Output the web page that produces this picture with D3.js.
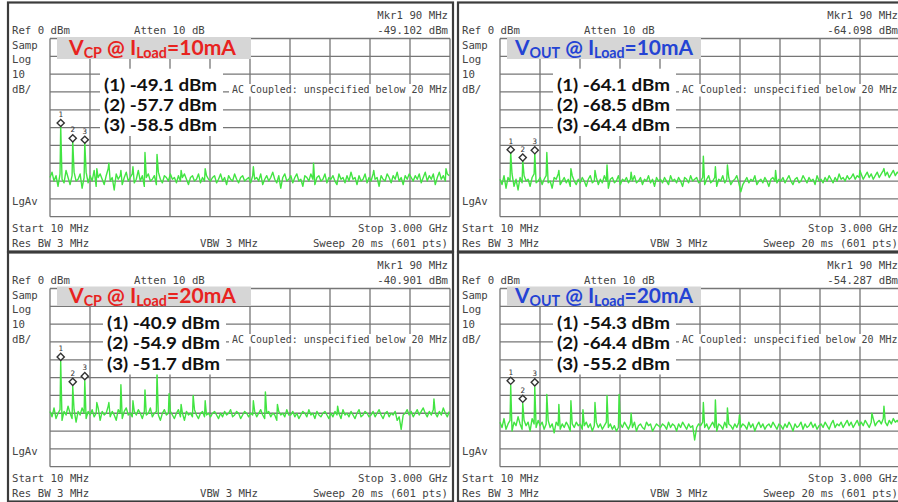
<!DOCTYPE html>
<html>
<head>
<meta charset="utf-8">
<script src="https://cdn.jsdelivr.net/npm/d3@7"></script>
<style>
  body { margin: 0; background: #fff; }
  svg { display: block; }
  text { white-space: pre; }
</style>
</head>
<body>
<div id="chart"></div>
<script>
// analyzer sweep settings
var startMHz = 10, stopMHz = 3000, stepMHz = 15;
var refLevel = 0, dbPerDiv = 10, divisions = 10;

// marker frequencies (MHz), same for all four captures
var markerFreqs = [90, 180, 270];

// marker levels (dBm)
var vcp10Markers = [-49.1, -57.7, -58.5];
var vout10Markers = [-64.1, -68.5, -64.4];
var vcp20Markers = [-40.9, -54.9, -51.7];
var vout20Markers = [-54.3, -64.4, -55.2];

// Mkr1 readout shown top right
var mkrReadouts = ["-49.102 dBm", "-64.098 dBm", "-40.901 dBm", "-54.287 dBm"];

// title pieces
var titleSubs = ["CP", "OUT", "CP", "OUT"];
var loadCurrents = ["10mA", "10mA", "20mA", "20mA"];

// other spurs (MHz, dBm)
var vcp10Spurs = [[360, -73], [450, -70], [540, -74], [630, -72], [720, -64], [810, -65], [990, -74],
  [1170, -73], [1530, -72], [1980, -70], [2430, -74], [2970, -73]];
var vout10Spurs = [[360, -64], [450, -74], [540, -73], [720, -74], [810, -71], [990, -75], [1530, -66],
  [1620, -72], [1710, -71], [2070, -74], [2700, -74], [2880, -73]];
var vcp20Spurs = [[360, -64], [450, -64], [540, -54], [630, -63], [720, -57], [810, -47.5], [900, -59],
  [990, -65], [1080, -60], [1170, -63], [1530, -63], [1620, -58], [1710, -65], [2160, -66], [2880, -62]];
var vout20Spurs = [[360, -59.5], [450, -65], [540, -63], [630, -68], [720, -64], [810, -60], [900, -59.5],
  [990, -70], [1530, -64], [1620, -62.5], [1710, -67], [1800, -71], [2790, -70], [2880, -66]];

// noise floor, one value every 15 MHz from 10 MHz (dBm)
var vcp10Noise = [
  -78,-75,-80,-77,-83,-76,-79,-81,-74,-78,-82,-77,-75,-80,-79,-76,-84,-78,-75,-81,
  -77,-80,-74,-83,-78,-76,-79,-82,-77,-73,-80,-78,-85,-76,-79,-77,-82,-78,-75,-80,
  -78,-76,-81,-79,-74,-80,-77,-83,-78,-76,-80,-79,-77,-82,-75,-79,-81,-77,-78,-80,
  -76,-79,-78,-81,-77,-80,-78,-76,-79,-82,-78,-77,-80,-79,-76,-81,-78,-80,-77,-79,
  -80,-78,-77,-81,-79,-76,-80,-78,-82,-77,-79,-80,-76,-79,-81,-78,-77,-80,-79,-78,
  -81,-77,-79,-78,-80,-76,-82,-79,-77,-80,-78,-75,-79,-81,-77,-84,-78,-76,-80,-79,
  -77,-81,-78,-76,-80,-79,-83,-77,-78,-80,-76,-79,-82,-78,-77,-80,-79,-76,-81,-78,
  -79,-77,-80,-82,-76,-79,-78,-81,-77,-80,-75,-79,-78,-82,-77,-80,-79,-76,-81,-78,
  -80,-76,-79,-78,-83,-77,-79,-80,-76,-78,-81,-77,-79,-75,-80,-78,-82,-77,-79,-76,
  -78,-80,-77,-79,-76,-81,-78,-75,-80,-77,-79,-76,-82,-78,-75,-79,-77,-80,-76,-77];
var vout10Noise = [
  -79,-82,-77,-84,-78,-80,-76,-83,-79,-85,-78,-81,-77,-80,-79,-83,-78,-76,-81,-80,
  -78,-82,-79,-77,-81,-80,-84,-78,-79,-76,-82,-80,-78,-81,-79,-83,-77,-80,-82,-79,
  -81,-78,-80,-83,-79,-77,-81,-80,-78,-82,-79,-81,-77,-80,-84,-79,-78,-81,-80,-77,
  -82,-79,-80,-78,-81,-79,-80,-77,-81,-80,-78,-82,-79,-80,-77,-81,-79,-83,-78,-80,
  -79,-81,-78,-80,-82,-77,-80,-79,-81,-78,-80,-83,-78,-79,-81,-77,-80,-79,-78,-81,
  -80,-78,-82,-79,-77,-81,-80,-78,-83,-79,-80,-77,-81,-79,-78,-82,-80,-79,-77,-81,
  -86,-82,-80,-78,-81,-79,-80,-77,-82,-80,-79,-81,-78,-80,-83,-79,-78,-80,-81,-79,
  -80,-78,-81,-79,-77,-80,-82,-79,-78,-81,-80,-77,-79,-81,-78,-80,-79,-82,-77,-80,
  -79,-81,-78,-80,-77,-79,-81,-78,-80,-76,-79,-78,-80,-77,-79,-78,-76,-79,-77,-78,
  -76,-79,-77,-75,-78,-76,-79,-77,-75,-78,-76,-74,-77,-75,-78,-76,-74,-77,-75,-76];
var vcp20Noise = [
  -69,-72,-67,-73,-70,-68,-74,-69,-71,-66,-70,-73,-68,-75,-69,-71,-67,-70,-73,-69,
  -71,-68,-72,-70,-67,-74,-69,-71,-70,-66,-72,-69,-71,-74,-68,-70,-73,-69,-67,-71,
  -70,-72,-69,-71,-68,-70,-73,-69,-71,-70,-67,-72,-70,-69,-71,-74,-70,-68,-71,-70,
  -69,-71,-73,-70,-68,-72,-70,-74,-69,-71,-70,-72,-68,-71,-73,-70,-69,-72,-71,-70,
  -72,-70,-69,-71,-73,-70,-72,-69,-71,-70,-68,-72,-71,-69,-70,-73,-71,-69,-70,-72,
  -70,-71,-69,-72,-70,-68,-71,-73,-70,-69,-72,-70,-71,-74,-69,-71,-70,-72,-68,-71,
  -71,-69,-72,-70,-73,-71,-69,-70,-72,-68,-71,-70,-73,-69,-71,-72,-70,-69,-71,-73,
  -70,-72,-69,-71,-70,-73,-68,-71,-70,-72,-69,-71,-73,-70,-68,-72,-71,-69,-70,-72,
  -71,-69,-72,-70,-68,-71,-73,-70,-69,-72,-70,-71,-69,-74,-72,-79,-71,-70,-68,-71,
  -69,-72,-70,-68,-71,-69,-67,-70,-72,-69,-71,-68,-70,-72,-69,-71,-67,-70,-72,-69];
var vout20Noise = [
  -75,-78,-73,-79,-76,-74,-80,-75,-77,-72,-76,-79,-74,-77,-75,-80,-73,-76,-78,-74,
  -77,-75,-79,-76,-74,-78,-76,-81,-75,-77,-79,-76,-78,-75,-77,-80,-76,-78,-75,-77,
  -76,-79,-77,-75,-78,-76,-80,-77,-75,-78,-76,-79,-77,-75,-78,-76,-79,-77,-80,-78,
  -76,-78,-75,-77,-79,-76,-78,-75,-80,-77,-76,-78,-79,-75,-77,-76,-80,-78,-76,-77,
  -78,-76,-77,-79,-75,-78,-76,-77,-80,-76,-78,-75,-77,-79,-76,-78,-77,-85,-78,-76,
  -77,-75,-78,-76,-79,-77,-75,-78,-80,-76,-77,-79,-75,-78,-76,-77,-79,-76,-78,-75,
  -78,-76,-77,-79,-75,-78,-76,-80,-77,-75,-78,-76,-79,-77,-76,-78,-75,-77,-79,-76,
  -77,-79,-76,-78,-75,-77,-80,-76,-78,-77,-75,-79,-76,-78,-77,-75,-78,-76,-79,-77,
  -76,-78,-75,-77,-79,-76,-74,-78,-76,-77,-75,-78,-76,-74,-77,-75,-78,-76,-74,-77,
  -75,-77,-74,-76,-78,-75,-73,-77,-75,-74,-76,-73,-75,-77,-74,-76,-73,-75,-74,-76];

var freqs = d3.range(startMHz, stopMHz, stepMHz);

var panels = [
  { ox: 0,   oy: 0,   noise: vcp10Noise,  spurs: vcp10Spurs,  markers: vcp10Markers,  color: "#e8231f", top: true },
  { ox: 450, oy: 0,   noise: vout10Noise, spurs: vout10Spurs, markers: vout10Markers, color: "#2443d4", top: true },
  { ox: 0,   oy: 250, noise: vcp20Noise,  spurs: vcp20Spurs,  markers: vcp20Markers,  color: "#e8231f", top: false },
  { ox: 450, oy: 250, noise: vout20Noise, spurs: vout20Spurs, markers: vout20Markers, color: "#2443d4", top: false }
];

var svg = d3.select("#chart").append("svg")
  .attr("width", 898)
  .attr("height", 502);

svg.append("rect").attr("width", 898).attr("height", 502).attr("fill", "#fff");

var mono = "'DejaVu Sans Mono', monospace";
var textGray = "#444";

// grid area of one screen
var gLeft = 50, gRight = 450, gTop = 38.5, gBottom = 216.7;

var x = d3.scaleLinear().domain([startMHz, stopMHz]).range([gLeft, gRight]);
var y = d3.scaleLinear().domain([refLevel, refLevel - dbPerDiv * divisions]).range([gTop, gBottom]);
var gx = d3.scaleLinear().domain([0, divisions]).range([gLeft, gRight]);
var gy = d3.scaleLinear().domain([0, divisions]).range([gTop, gBottom]);

function monoText(g, str, px, py, anchor, size) {
  return g.append("text")
    .attr("x", px).attr("y", py)
    .attr("text-anchor", anchor || "start")
    .attr("font-family", mono)
    .attr("font-size", size || 10.7)
    .attr("fill", textGray)
    .text(str);
}

panels.forEach(function (p, k) {
  var g = svg.append("g").attr("transform", "translate(" + p.ox + "," + p.oy + ")");

  // screen frame
  g.append("rect")
    .attr("x", 8).attr("y", 2.5)
    .attr("width", 445).attr("height", 249)
    .attr("fill", "#fff")
    .attr("stroke", "#3c3c3c")
    .attr("stroke-width", 2.2);

  // graticule
  g.append("g").selectAll("line.v")
    .data(d3.range(divisions + 1))
    .join("line")
    .attr("x1", function (d) { return gx(d); })
    .attr("x2", function (d) { return gx(d); })
    .attr("y1", gTop).attr("y2", gBottom)
    .attr("stroke", "#767676").attr("stroke-width", 1.3);
  g.append("g").selectAll("line.h")
    .data(d3.range(divisions + 1))
    .join("line")
    .attr("x1", gLeft).attr("x2", gRight)
    .attr("y1", function (d) { return gy(d); })
    .attr("y2", function (d) { return gy(d); })
    .attr("stroke", "#767676").attr("stroke-width", 1.3);

  // trace: noise floor plus spurs and marker peaks
  var pts = p.noise.map(function (v, i) { return { f: freqs[i], v: v }; })
    .concat(p.spurs.map(function (s) { return { f: s[0], v: s[1] }; }))
    .concat(p.markers.map(function (v, i) { return { f: markerFreqs[i], v: v }; }))
    .sort(function (a, b) { return a.f - b.f; });

  g.append("path")
    .datum(pts)
    .attr("fill", "none")
    .attr("stroke", "#42e442")
    .attr("stroke-width", 1.4)
    .attr("stroke-linejoin", "round")
    .attr("d", d3.line()
      .x(function (d) { return x(d.f); })
      .y(function (d) { return y(d.v); }));

  // marker diamonds
  var lift = p.top ? 3 : 4.5;
  var mk = g.append("g").selectAll("g")
    .data(p.markers)
    .join("g")
    .attr("transform", function (d, i) {
      return "translate(" + x(markerFreqs[i]) + "," + (y(d) - lift) + ")";
    });
  mk.append("path")
    .attr("d", d3.symbol().type(d3.symbolSquare).size(26))
    .attr("transform", "rotate(45)")
    .attr("fill", "#fff")
    .attr("stroke", "#333")
    .attr("stroke-width", 1.4);
  mk.append("text")
    .attr("y", -6)
    .attr("text-anchor", "middle")
    .attr("font-family", mono)
    .attr("font-size", 7.5)
    .attr("fill", "#333")
    .text(function (d, i) { return i + 1; });

  // annotation texts
  monoText(g, "Ref 0 dBm", 12, 34);
  monoText(g, "Atten 10 dB", 134, 34);
  monoText(g, "Mkr1 90 MHz", 448, 18.5, "end");
  monoText(g, mkrReadouts[k], 448, 34, "end");
  monoText(g, "Samp", 12, 48.5);
  monoText(g, "Log", 12, 63);
  monoText(g, "10", 12, 77.5);
  monoText(g, "dB/", 12, 92.5);
  monoText(g, "LgAv", 12, 205);
  monoText(g, "Start 10 MHz", 12, 231.5);
  monoText(g, "Res BW 3 MHz", 12, 246.5);
  monoText(g, "VBW 3 MHz", 200, 246.5);
  monoText(g, "Stop 3.000 GHz", 448, 231.5, "end");
  monoText(g, "Sweep 20 ms (601 pts)", 448, 246.5, "end");

  g.append("rect").attr("x", 229).attr("y", 84).attr("width", 220).attr("height", 12.5).attr("fill", "#fff");
  monoText(g, "AC Coupled: unspecified below 20 MHz", 232, 92.5, "start", 9.95);

  // title banner
  var bTop = p.top ? 37 : 36.5, bBot = p.top ? 59 : 56;
  g.append("rect")
    .attr("x", 57).attr("y", bTop)
    .attr("width", 194).attr("height", bBot - bTop)
    .attr("fill", "#d6d6d6");
  var tx = p.color === "#e8231f" ? 69 : 65;
  var tw = p.color === "#e8231f" ? 169 : 180;
  var base = 19;
  var t = g.append("text")
    .attr("x", tx).attr("y", p.top ? 55 : 53)
    .attr("font-family", "Lato, 'Open Sans', sans-serif")
    .attr("font-weight", "bold")
    .attr("font-size", base)
    .attr("fill", p.color);
  t.append("tspan").text("V");
  t.append("tspan").attr("font-size", "0.68em").attr("dy", 3).text(titleSubs[k]);
  t.append("tspan").attr("dy", -3).text(" @ I");
  t.append("tspan").attr("font-size", "0.68em").attr("dy", 3).text("Load");
  t.append("tspan").attr("dy", -3).text("=" + loadCurrents[k]);
  var w = t.node().getBBox().width;
  t.attr("font-size", base * tw / w);

  // marker value labels
  var lb = p.top ? [90.7, 111, 131] : [79, 99.2, 119.5];
  var lx = k === 0 ? 104 : 107;
  g.append("rect")
    .attr("x", lx - 4).attr("y", lb[0] - 22)
    .attr("width", 123).attr("height", lb[2] - lb[0] + 27)
    .attr("fill", "#fff");
  g.append("g").selectAll("text")
    .data(p.markers)
    .join("text")
    .attr("x", lx)
    .attr("y", function (d, i) { return lb[i]; })
    .attr("font-family", "Lato, 'Open Sans', sans-serif")
    .attr("font-weight", "bold")
    .attr("font-size", 17)
    .attr("fill", "#111")
    .attr("textLength", 113)
    .attr("lengthAdjust", "spacingAndGlyphs")
    .text(function (d, i) { return "(" + (i + 1) + ") " + d.toFixed(1) + " dBm"; });
});
</script>
</body>
</html>
